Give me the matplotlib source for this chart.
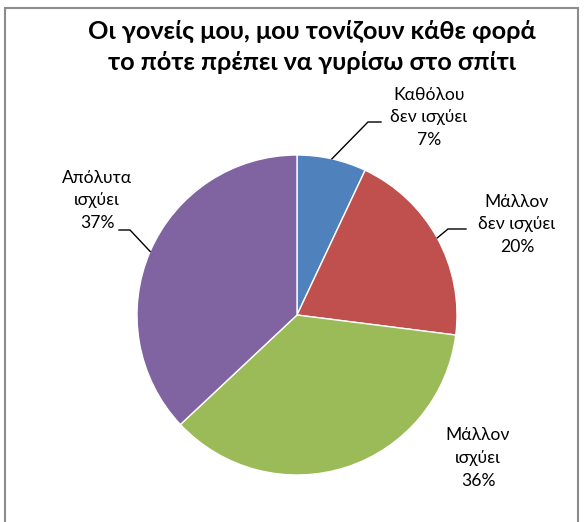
import matplotlib
matplotlib.use("Agg")
import matplotlib.pyplot as plt
import numpy as np
from matplotlib.patches import Rectangle

plt.rcParams['font.family'] = ['Lato', 'Open Sans', 'DejaVu Sans']

title = "Οι γονείς μου, μου τονίζουν κάθε φορά\nτο πότε πρέπει να γυρίσω στο σπίτι"
labels = ["Καθόλου\nδεν ισχύει", "Μάλλον\nδεν ισχύει", "Μάλλον\nισχύει", "Απόλυτα\nισχύει"]
values = [7, 20, 36, 37]
colors = ["#4F81BD", "#C0504D", "#9BBB59", "#8064A2"]

W, H = 584, 522
fig = plt.figure(figsize=(W / 100, H / 100), dpi=100)

# pie centre (297, 315) px, radius 160 px
cx, cy, r = 297, 315, 160
ax = fig.add_axes([(cx - r) / W, (H - cy - r) / H, 2 * r / W, 2 * r / H])
wedges, _ = ax.pie(values, colors=colors, startangle=90, counterclock=False, radius=1,
                   wedgeprops=dict(edgecolor="white", linewidth=1))
ax.set_xlim(-1, 1)
ax.set_ylim(-1, 1)
ax.axis("off")

def px(x, y):
    # pixel position -> data coords of the pie axes
    return (x - cx) / r, (cy - y) / r

# label centres and leader-line bends (pixels)
label_pos = [(429, 117), (517, 224), (478, 458), (97, 200)]
bends = [
    [(368, 122), (381, 122)],
    [(448, 229), (466, 229)],
    None,
    [(130, 230), (119, 230)],
]

for w, lab, v, pos, bd in zip(wedges, labels, values, label_pos, bends):
    x, y = px(*pos)
    ax.text(x, y, f"{lab}\n{v}%", ha="center", va="center", fontsize=12.6,
            linespacing=1.5, color="black", clip_on=False)
    if bd:
        mid = np.deg2rad((w.theta1 + w.theta2) / 2)
        pts = [(np.cos(mid), np.sin(mid))] + [px(a, b) for a, b in bd]
        xs, ys = zip(*pts)
        ax.plot(xs, ys, color="black", lw=1, clip_on=False)

fig.text(312 / W, 1 - 47 / H, title, ha="center", va="center", fontsize=18.2,
         fontweight="bold", linespacing=1.42)

fig.patches.append(Rectangle((5 / W, -0.02), (578 - 5) / W, 1 - 8 / H + 0.02,
                             transform=fig.transFigure, fill=False,
                             edgecolor="#8c8c8c", lw=1.5))

fig.savefig("out.png", dpi=100)
